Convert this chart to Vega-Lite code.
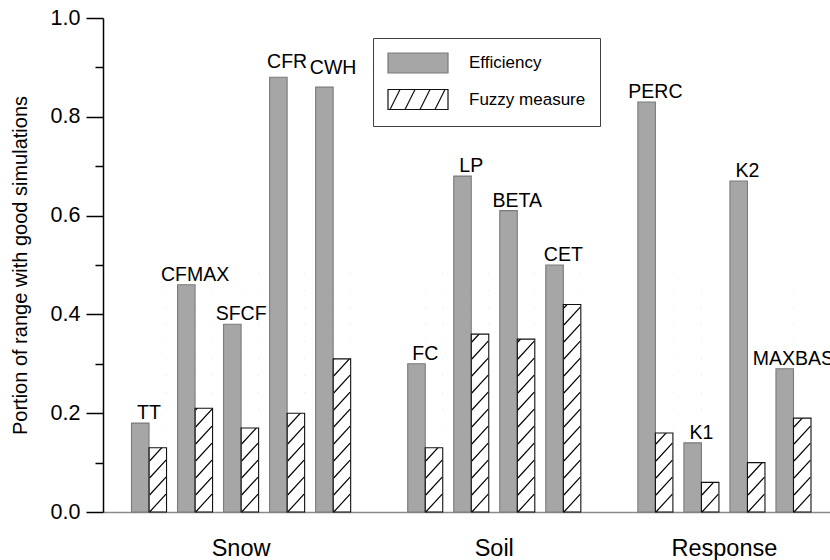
{
  "$schema": "https://vega.github.io/schema/vega-lite/v6.json",
  "width": 727,
  "height": 494,
  "autosize": {"type": "none"},
  "padding": {"left": 103, "top": 18, "right": 0, "bottom": 48},
  "background": "white",
  "config": {"view": {"stroke": null}, "font": "Liberation Sans"},
  "data": {
    "values": [
      {"param": "TT", "group": "Snow", "measure": "Efficiency", "value": 0.18},
      {"param": "TT", "group": "Snow", "measure": "Fuzzy measure", "value": 0.13},
      {"param": "CFMAX", "group": "Snow", "measure": "Efficiency", "value": 0.46},
      {"param": "CFMAX", "group": "Snow", "measure": "Fuzzy measure", "value": 0.21},
      {"param": "SFCF", "group": "Snow", "measure": "Efficiency", "value": 0.38},
      {"param": "SFCF", "group": "Snow", "measure": "Fuzzy measure", "value": 0.17},
      {"param": "CFR", "group": "Snow", "measure": "Efficiency", "value": 0.88},
      {"param": "CFR", "group": "Snow", "measure": "Fuzzy measure", "value": 0.2},
      {"param": "CWH", "group": "Snow", "measure": "Efficiency", "value": 0.86},
      {"param": "CWH", "group": "Snow", "measure": "Fuzzy measure", "value": 0.31},
      {"param": "FC", "group": "Soil", "measure": "Efficiency", "value": 0.3},
      {"param": "FC", "group": "Soil", "measure": "Fuzzy measure", "value": 0.13},
      {"param": "LP", "group": "Soil", "measure": "Efficiency", "value": 0.68},
      {"param": "LP", "group": "Soil", "measure": "Fuzzy measure", "value": 0.36},
      {"param": "BETA", "group": "Soil", "measure": "Efficiency", "value": 0.61},
      {"param": "BETA", "group": "Soil", "measure": "Fuzzy measure", "value": 0.35},
      {"param": "CET", "group": "Soil", "measure": "Efficiency", "value": 0.5},
      {"param": "CET", "group": "Soil", "measure": "Fuzzy measure", "value": 0.42},
      {"param": "PERC", "group": "Response", "measure": "Efficiency", "value": 0.83},
      {"param": "PERC", "group": "Response", "measure": "Fuzzy measure", "value": 0.16},
      {"param": "K1", "group": "Response", "measure": "Efficiency", "value": 0.14},
      {"param": "K1", "group": "Response", "measure": "Fuzzy measure", "value": 0.06},
      {"param": "K2", "group": "Response", "measure": "Efficiency", "value": 0.67},
      {"param": "K2", "group": "Response", "measure": "Fuzzy measure", "value": 0.1},
      {"param": "MAXBAS", "group": "Response", "measure": "Efficiency", "value": 0.29},
      {"param": "MAXBAS", "group": "Response", "measure": "Fuzzy measure", "value": 0.19}
    ]
  },
  "encoding": {
    "x": {
      "field": "param",
      "type": "nominal",
      "sort": null,
      "scale": {
        "type": "band",
        "domain": ["TT", "CFMAX", "SFCF", "CFR", "CWH", "gap1", "FC", "LP", "BETA", "CET", "gap2", "PERC", "K1", "K2", "MAXBAS"],
        "paddingInner": 0.239,
        "paddingOuter": 0.516,
        "align": 0.6
      },
      "axis": {
        "orient": "bottom",
        "title": null,
        "ticks": false,
        "domain": true,
        "domainColor": "#8a8a8a",
        "domainWidth": 1.5,
        "labelAngle": 0,
        "labelOverlap": false,
        "labelExpr": "datum.value === 'SFCF' ? 'Snow' : datum.value === 'LP' ? 'Soil' : datum.value === 'K1' ? 'Response' : ''",
        "labelOffset": {"condition": {"test": "datum.value === 'SFCF'", "value": 0}, "value": 23},
        "labelFont": "Liberation Sans",
        "labelFontSize": 23.5,
        "labelColor": "#000000",
        "labelPadding": 24
      }
    },
    "y": {
      "field": "value",
      "type": "quantitative",
      "scale": {"domain": [0, 1], "nice": false, "zero": true},
      "axis": {
        "orient": "left",
        "title": "Portion of range with good simulations",
        "titleFont": "Liberation Sans",
        "titleFontSize": 20,
        "titleFontWeight": "normal",
        "titleColor": "#000000",
        "titlePadding": 20,
        "values": [0, 0.1, 0.2, 0.3, 0.4, 0.5, 0.6, 0.7, 0.8, 0.9, 1.0],
        "labelExpr": "round(datum.value * 10) % 2 === 0 ? format(datum.value, '.1f') : ''",
        "labelOverlap": false,
        "labelFont": "Liberation Sans",
        "labelFontSize": 21.5,
        "labelColor": "#000000",
        "labelPadding": 6,
        "tickSize": {"condition": {"test": "round(datum.value * 10) % 2 === 1", "value": 8}, "value": 17},
        "tickColor": "#000000",
        "tickWidth": 1.5,
        "domainColor": "#000000",
        "domainWidth": 1.5,
        "grid": false
      }
    }
  },
  "layer": [
    {
      "mark": {"type": "point", "opacity": 0, "filled": false, "size": 400},
      "encoding": {
        "xOffset": {"field": "measure", "type": "nominal", "scale": {"domain": ["Efficiency", "Fuzzy measure"]}},
        "shape": {
          "field": "measure",
          "type": "nominal",
          "scale": {
            "domain": ["Efficiency", "Fuzzy measure"],
            "range": ["M-3,-1H3V1H-3Z", "M-3,-1H3V1H-3ZM-2.8,1L-1.8,-1M-1.3,1L-0.3,-1M0.2,1L1.2,-1M1.7,1L2.7,-1"]
          },
          "legend": {
            "orient": "none", "legendX": 270, "legendY": 20, "title": null, "padding": 14,
            "strokeColor": "#404040", "fillColor": "white",
            "labelFont": "Liberation Sans", "labelFontSize": 17, "labelColor": "#000000",
            "symbolSize": 400, "symbolOffset": 20, "labelOffset": 40, "rowPadding": 10.5,
            "symbolStrokeWidth": 1.2, "symbolOpacity": 1
          }
        },
        "fill": {
          "field": "measure",
          "type": "nominal",
          "scale": {"domain": ["Efficiency", "Fuzzy measure"], "range": ["#a6a6a6", "transparent"]},
          "legend": {
            "orient": "none", "legendX": 270, "legendY": 20, "title": null, "padding": 14,
            "strokeColor": "#404040", "fillColor": "white",
            "labelFont": "Liberation Sans", "labelFontSize": 17, "labelColor": "#000000",
            "symbolSize": 400, "symbolOffset": 20, "labelOffset": 40, "rowPadding": 10.5,
            "symbolStrokeWidth": 1.2, "symbolOpacity": 1
          }
        },
        "stroke": {
          "field": "measure",
          "type": "nominal",
          "scale": {"domain": ["Efficiency", "Fuzzy measure"], "range": ["#7a7a7a", "#111111"]},
          "legend": {
            "orient": "none", "legendX": 270, "legendY": 20, "title": null, "padding": 14,
            "strokeColor": "#404040", "fillColor": "white",
            "labelFont": "Liberation Sans", "labelFontSize": 17, "labelColor": "#000000",
            "symbolSize": 400, "symbolOffset": 20, "labelOffset": 40, "rowPadding": 10.5,
            "symbolStrokeWidth": 1.2, "symbolOpacity": 1
          }
        }
      }
    },
    {
      "transform": [{"filter": "datum.measure === 'Fuzzy measure'"}],
      "mark": {
        "type": "point",
        "shape": "M-0.82,0L0.82,-1.78M-0.82,-1.7L0.82,-3.48M-0.82,-3.4L0.82,-5.18M-0.82,-5.1L0.82,-6.88M-0.82,-6.8L0.82,-8.58M-0.82,-8.5L0.82,-10.28M-0.82,-10.2L0.82,-11.98M-0.82,-11.9L0.82,-13.68M-0.82,-13.6L0.82,-15.38M-0.82,-15.3L0.82,-17.08M-0.82,-17L0.82,-18.78M-0.82,-18.7L0.82,-20.48M-0.82,-20.4L0.82,-22.18M-0.82,-22.1L0.82,-23.88",
        "size": 400,
        "filled": false,
        "stroke": "#000000",
        "strokeWidth": 1.2,
        "opacity": 1
      },
      "encoding": {
        "xOffset": {"field": "measure", "type": "nominal", "scale": {"domain": ["Efficiency", "Fuzzy measure"]}},
        "y": {
          "datum": 0,
          "type": "quantitative",
          "scale": {"domain": [0, 1], "nice": false, "zero": true},
          "axis": {
            "orient": "left",
            "title": "Portion of range with good simulations",
            "titleFont": "Liberation Sans",
            "titleFontSize": 20,
            "titleFontWeight": "normal",
            "titleColor": "#000000",
            "titlePadding": 20,
            "values": [0, 0.1, 0.2, 0.3, 0.4, 0.5, 0.6, 0.7, 0.8, 0.9, 1.0],
            "labelExpr": "round(datum.value * 10) % 2 === 0 ? format(datum.value, '.1f') : ''",
            "labelOverlap": false,
            "labelFont": "Liberation Sans",
            "labelFontSize": 21.5,
            "labelColor": "#000000",
            "labelPadding": 6,
            "tickSize": {"condition": {"test": "round(datum.value * 10) % 2 === 1", "value": 8}, "value": 17},
            "tickColor": "#000000",
            "tickWidth": 1.5,
            "domainColor": "#000000",
            "domainWidth": 1.5,
            "grid": false
          }
        }
      }
    },
    {
      "transform": [{"filter": "datum.measure === 'Fuzzy measure'"}],
      "mark": {"type": "bar", "fill": "white", "stroke": null},
      "encoding": {
        "xOffset": {"field": "measure", "type": "nominal", "scale": {"domain": ["Efficiency", "Fuzzy measure"]}},
        "y2": {"datum": 1}
      }
    },
    {
      "mark": {"type": "bar", "strokeWidth": 1.1},
      "encoding": {
        "xOffset": {"field": "measure", "type": "nominal", "scale": {"domain": ["Efficiency", "Fuzzy measure"]}},
        "fill": {
          "field": "measure",
          "type": "nominal",
          "scale": {"domain": ["Efficiency", "Fuzzy measure"], "range": ["#a6a6a6", "transparent"]},
          "legend": {
            "orient": "none", "legendX": 270, "legendY": 20, "title": null, "padding": 14,
            "strokeColor": "#404040", "fillColor": "white",
            "labelFont": "Liberation Sans", "labelFontSize": 17, "labelColor": "#000000",
            "symbolSize": 400, "symbolOffset": 20, "labelOffset": 40, "rowPadding": 10.5,
            "symbolStrokeWidth": 1.2, "symbolOpacity": 1
          }
        },
        "stroke": {
          "field": "measure",
          "type": "nominal",
          "scale": {"domain": ["Efficiency", "Fuzzy measure"], "range": ["#7a7a7a", "#111111"]},
          "legend": {
            "orient": "none", "legendX": 270, "legendY": 20, "title": null, "padding": 14,
            "strokeColor": "#404040", "fillColor": "white",
            "labelFont": "Liberation Sans", "labelFontSize": 17, "labelColor": "#000000",
            "symbolSize": 400, "symbolOffset": 20, "labelOffset": 40, "rowPadding": 10.5,
            "symbolStrokeWidth": 1.2, "symbolOpacity": 1
          }
        }
      }
    },
    {
      "transform": [{"filter": "datum.measure === 'Efficiency'"}],
      "mark": {
        "type": "text",
        "font": "Liberation Sans",
        "fontSize": 19.5,
        "color": "#000000",
        "align": "center",
        "baseline": "alphabetic",
        "dy": {"expr": "datum.param === 'CWH' ? -13 : datum.param === 'CFR' ? -9 : -4"}
      },
      "encoding": {
        "text": {"field": "param"}
      }
    }
  ]
}
